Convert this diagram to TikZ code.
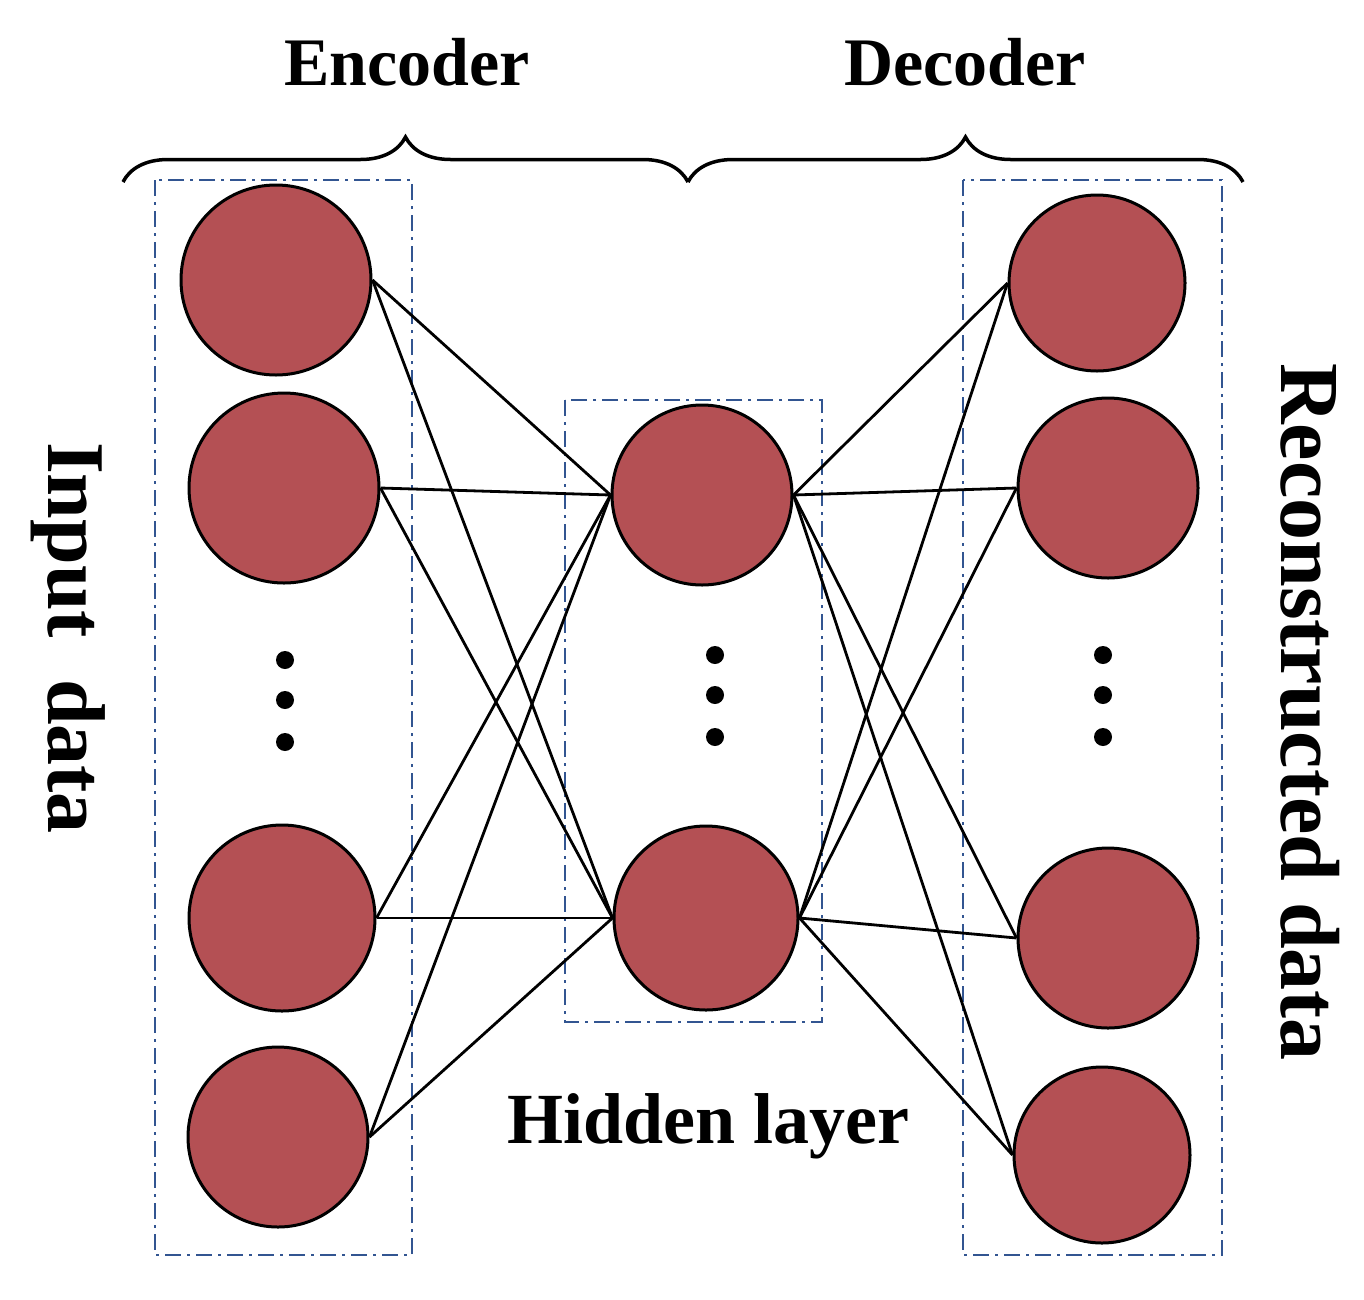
\documentclass[tikz,border=0pt]{standalone}
\usepackage{fontspec}
\setmainfont{Liberation Serif}
\usetikzlibrary{decorations.pathreplacing}
\definecolor{nred}{RGB}{180,80,84}
\definecolor{bblue}{RGB}{50,85,145}
\begin{document}
\begin{tikzpicture}[x=1pt,y=-1pt,
  neuron/.style={circle,draw=black,line width=3pt,fill=nred,inner sep=0pt},
  box/.style={draw=bblue,line width=2.5pt,dash pattern=on 16pt off 6pt on 3pt off 6pt},
  conn/.style={line width=2.8pt},
  lab/.style={font=\bfseries\fontsize{68}{74}\selectfont},
  dot/.style={circle,fill=black,inner sep=0pt,minimum size=18pt}]
\useasboundingbox (0,0) rectangle (1364,1299);
\draw[box] (155,180) rectangle (412,1255);
\draw[box] (565,400) rectangle (822,1022);
\draw[box] (963,180) rectangle (1222,1255);
\draw[line width=3.5pt,decorate,decoration={brace,amplitude=45pt}] (123,182) -- (688,182);
\draw[line width=3.5pt,decorate,decoration={brace,amplitude=45pt}] (688,182) -- (1243,182);
\node[lab] (enc) at (407,62) {Encoder};
\node[lab] (dec) at (965,62) {Decoder};
\node[font=\bfseries\fontsize{72}{78}\selectfont] (hid) at (708,1126) {Hidden layer};
\node[font=\bfseries\fontsize{82}{88}\selectfont,rotate=-90] (inp) at (68,638) {Input\ \ data};
\node[font=\bfseries\fontsize{84}{90}\selectfont,rotate=-90] (rec) at (1310,712) {Reconstructed data};
\node[neuron,minimum size=190pt] (i1) at (276,280) {};
\node[neuron,minimum size=190pt] (i2) at (284,488) {};
\node[neuron,minimum size=186pt] (i3) at (282,918) {};
\node[neuron,minimum size=180pt] (i4) at (278,1137) {};
\node[neuron,minimum size=180pt] (h1) at (702,495) {};
\node[neuron,minimum size=184pt] (h2) at (706,918) {};
\node[neuron,minimum size=176pt] (o1) at (1097,283) {};
\node[neuron,minimum size=180pt] (o2) at (1108,488) {};
\node[neuron,minimum size=180pt] (o3) at (1108,938) {};
\node[neuron,minimum size=176pt] (o4) at (1102,1155) {};
\foreach \i in {i1,i2,i3,i4} \foreach \h in {h1,h2} \draw[conn] (\i.east) -- (\h.west);
\foreach \h in {h1,h2} \foreach \o in {o1,o2,o3,o4} \draw[conn] (\h.east) -- (\o.west);
\foreach \y [count=\k] in {660,700,742} {
  \node[dot] (a\k) at (285,\y) {};
  \node[dot] (b\k) at (715,\y-5) {};
  \node[dot] (c\k) at (1103,\y-5) {};
}
\end{tikzpicture}
\end{document}
